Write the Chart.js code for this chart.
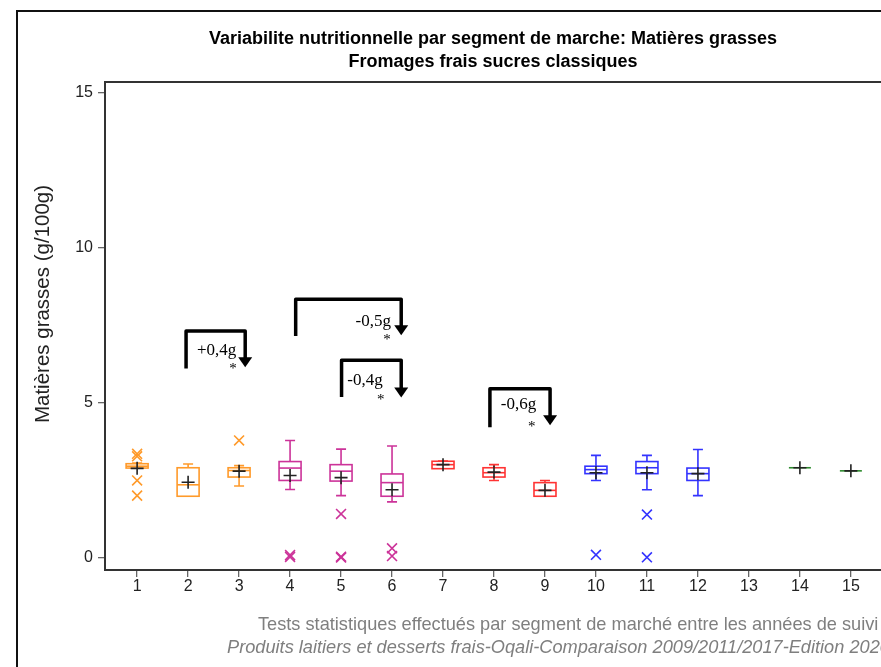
<!DOCTYPE html>
<html>
<head>
<meta charset="utf-8">
<script src="https://cdn.jsdelivr.net/npm/chart.js@4/dist/chart.umd.min.js"></script>
<style>
html,body{margin:0;padding:0;background:#fff;overflow:hidden;}
#wrap{width:900px;height:667px;}
</style>
</head>
<body>
<div id="wrap"><canvas id="c" width="900" height="667"></canvas></div>
<script>
// ---- data ----
const categories = [1,2,3,4,5,6,7,8,9,10,11,12,13,14,15];
const groupColors = ['#ff9a2a','#ff9a2a','#ff9a2a','#cc3399','#cc3399','#cc3399','#ff3333','#ff3333','#ff3333','#3333ff','#3333ff','#3333ff','#2e8b2e','#2e8b2e','#2e8b2e'];
const whiskerLow  = [2.90,1.98,2.31,2.20,2.00,1.80,2.87,2.49,1.98,2.49,2.19,2.00,null,2.90,2.80];
const quart1      = [2.89,1.98,2.60,2.49,2.47,1.98,2.87,2.60,1.98,2.71,2.71,2.49,null,2.90,2.80];
const medians     = [2.95,2.35,2.81,2.89,2.79,2.42,3.00,2.74,2.17,2.84,2.90,2.71,null,2.90,2.80];
const quart3      = [3.03,2.90,2.90,3.10,3.00,2.70,3.11,2.90,2.42,2.95,3.10,2.89,null,2.90,2.80];
const whiskerHigh = [3.05,3.02,2.97,3.78,3.50,3.60,3.12,3.00,2.49,3.30,3.30,3.49,null,2.90,2.80];
const means       = [2.88,2.43,2.79,2.65,2.58,2.19,3.00,2.76,2.17,2.74,2.74,2.71,null,2.90,2.80];
const outlierCat  = [1,1,1,1,3,4,4,5,5,5,6,6,10,11,11];
const outlierVal  = [3.35,3.27,2.49,2.00,3.78,0.08,0.02,1.41,0.03,0.00,0.30,0.05,0.09,1.39,0.01];
const xTickValues = [1,2,3,4,5,6,7,8,9,10,11,12,13,14,15];
const yTickValues = [0,5,10,15];
// significance brackets (data units)
const bracketLabels = ['+0,4g','-0,5g','-0,4g','-0,6g'];
const bracketX1     = [1.96,4.11,5.01,7.92];
const bracketX2     = [3.12,6.18,6.18,9.10];
const bracketTop    = [7.31,8.34,6.37,5.45];
const bracketLeftLow= [6.10,7.15,5.18,4.21];
const bracketTip    = [6.14,7.18,5.17,4.27];
const labelX        = [2.56,5.63,5.47,8.48];
const labelY        = [6.69,7.61,5.72,4.94];
const starX         = [2.88,5.90,5.78,8.74];
const starY         = [6.18,7.12,5.18,4.32];

const titleLines = ['Variabilite nutritionnelle par segment de marche: Matières grasses','Fromages frais sucres classiques'];
const yTitle = 'Matières grasses (g/100g)';
const foot1 = 'Tests statistiques effectués par segment de marché entre les années de suivi';
const foot2 = 'Produits laitiers et desserts frais-Oqali-Comparaison 2009/2011/2017-Edition 2020';

const SANS = "'Liberation Sans', Arial, sans-serif";

const meanPoints = categories.map((c,i)=> means[i]==null?null:{x:c,y:means[i]}).filter(p=>p);
const outPoints = outlierCat.map((c,i)=>({x:c,y:outlierVal[i]}));
const outColors = outlierCat.map(c=>groupColors[c-1]);

const bgPlugin = {
  id:'bg',
  beforeDraw(chart){
    const ctx = chart.ctx;
    ctx.save();
    ctx.fillStyle='#fff';
    ctx.fillRect(0,0,chart.width,chart.height);
    ctx.strokeStyle='#111';
    ctx.lineWidth=2;
    ctx.beginPath();
    ctx.moveTo(17,chart.height);
    ctx.lineTo(17,11);
    ctx.lineTo(chart.width,11);
    ctx.stroke();
    ctx.restore();
  }
};

const boxPlugin = {
  id:'boxes',
  beforeDatasetsDraw(chart){
    const ctx = chart.ctx, xs = chart.scales.x, ys = chart.scales.y;
    const ca = chart.chartArea;
    ctx.save();
    ctx.strokeStyle='#333'; ctx.lineWidth=2;
    ctx.beginPath(); ctx.moveTo(ca.left,ca.top); ctx.lineTo(ca.right,ca.top); ctx.lineTo(ca.right,ca.bottom); ctx.stroke();
    const bw = 11, cw = 5;
    categories.forEach((c,i)=>{
      if (medians[i]==null) return;
      const x = xs.getPixelForValue(c);
      const yq1 = ys.getPixelForValue(quart1[i]), yq3 = ys.getPixelForValue(quart3[i]);
      const ymed = ys.getPixelForValue(medians[i]);
      const ylo = ys.getPixelForValue(whiskerLow[i]), yhi = ys.getPixelForValue(whiskerHigh[i]);
      ctx.strokeStyle = groupColors[i];
      ctx.lineWidth = 1.6;
      ctx.beginPath();
      if (yhi < yq3) { ctx.moveTo(x,yq3); ctx.lineTo(x,yhi); ctx.moveTo(x-cw,yhi); ctx.lineTo(x+cw,yhi); }
      if (ylo > yq1) { ctx.moveTo(x,yq1); ctx.lineTo(x,ylo); ctx.moveTo(x-cw,ylo); ctx.lineTo(x+cw,ylo); }
      ctx.stroke();
      if (Math.abs(yq1-yq3) >= 1) ctx.strokeRect(x-bw, yq3, 2*bw, yq1-yq3);
      ctx.beginPath(); ctx.moveTo(x-bw,ymed); ctx.lineTo(x+bw,ymed); ctx.stroke();
    });
    ctx.restore();
  }
};

const textPlugin = {
  id:'texts',
  afterDraw(chart){
    const ctx = chart.ctx, xs = chart.scales.x, ys = chart.scales.y;
    ctx.save();
    ctx.fillStyle='#000';
    ctx.textAlign='center';
    ctx.textBaseline='alphabetic';
    ctx.font = "bold 18px " + SANS;
    ctx.fillText(titleLines[0], 493, 44);
    ctx.fillText(titleLines[1], 493, 67);
    ctx.fillStyle='#7f7f7f';
    ctx.textAlign='left';
    ctx.font = "18.2px " + SANS;
    ctx.fillText(foot1, 258, 630);
    ctx.font = "italic 18.2px " + SANS;
    ctx.fillText(foot2, 227, 653);
    ctx.save();
    ctx.translate(43, 304);
    ctx.rotate(-Math.PI/2);
    ctx.fillStyle='#222';
    ctx.textAlign='center';
    ctx.textBaseline='middle';
    ctx.font = "20.5px " + SANS;
    ctx.fillText(yTitle, 0, 0);
    ctx.restore();
    ctx.strokeStyle='#000';
    ctx.fillStyle='#000';
    ctx.lineWidth=3.5;
    ctx.lineJoin='round';
    ctx.lineCap='butt';
    bracketLabels.forEach((lab,i)=>{
      const x1 = xs.getPixelForValue(bracketX1[i]), x2 = xs.getPixelForValue(bracketX2[i]);
      const yt = ys.getPixelForValue(bracketTop[i]);
      const yl = ys.getPixelForValue(bracketLeftLow[i]);
      const ytip = ys.getPixelForValue(bracketTip[i]);
      const ah = 10, aw = 7;
      ctx.beginPath();
      ctx.moveTo(x1,yl); ctx.lineTo(x1,yt); ctx.lineTo(x2,yt); ctx.lineTo(x2,ytip-ah+1);
      ctx.stroke();
      ctx.beginPath();
      ctx.moveTo(x2-aw,ytip-ah); ctx.lineTo(x2+aw,ytip-ah); ctx.lineTo(x2,ytip); ctx.closePath(); ctx.fill();
      ctx.font = "17px 'Liberation Serif', serif";
      ctx.textAlign='center'; ctx.textBaseline='middle';
      ctx.fillText(lab, xs.getPixelForValue(labelX[i]), ys.getPixelForValue(labelY[i]));
      ctx.font = "15px 'Liberation Serif', serif";
      ctx.fillText('*', xs.getPixelForValue(starX[i]), ys.getPixelForValue(starY[i])+3);
    });
    ctx.restore();
  }
};

new Chart(document.getElementById('c'), {
  type:'scatter',
  data:{
    datasets:[
      {label:'outliers', data: outPoints, pointStyle:'crossRot', radius:7, pointBorderColor: outColors, pointBorderWidth:1.6, borderColor: outColors, hoverRadius:7},
      {label:'means', data: meanPoints, pointStyle:'cross', radius:6.5, pointBorderColor:'#222', borderColor:'#222', pointBorderWidth:1.6, hoverRadius:6.5}
    ]
  },
  options:{
    responsive:false,
    animation:false,
    devicePixelRatio:1,
    layout:{padding:{left:0,top:82,right:17,bottom:0}},
    plugins:{legend:{display:false},tooltip:{enabled:false},title:{display:false}},
    scales:{
      x:{
        type:'linear', min:0.37, max:15.63,
        afterBuildTicks(s){ s.ticks = xTickValues.map(v=>({value:v})); },
        afterFit(s){ s.height = 97; },
        grid:{drawOnChartArea:false, drawTicks:true, tickLength:7, color:'#666', lineWidth:1.3},
        border:{display:true, color:'#333', width:2},
        ticks:{color:'#222', font:{family:SANS, size:16}, padding:0, maxRotation:0, autoSkip:false}
      },
      y:{
        type:'linear', min:-0.4, max:15.35,
        afterBuildTicks(s){ s.ticks = yTickValues.map(v=>({value:v})); },
        afterFit(s){ s.width = 105; },
        grid:{drawOnChartArea:false, drawTicks:true, tickLength:7, color:'#666', lineWidth:1.3},
        border:{display:true, color:'#333', width:2},
        ticks:{color:'#222', font:{family:SANS, size:16}, padding:5}
      }
    }
  },
  plugins:[bgPlugin, boxPlugin, textPlugin]
});
</script>
</body>
</html>
